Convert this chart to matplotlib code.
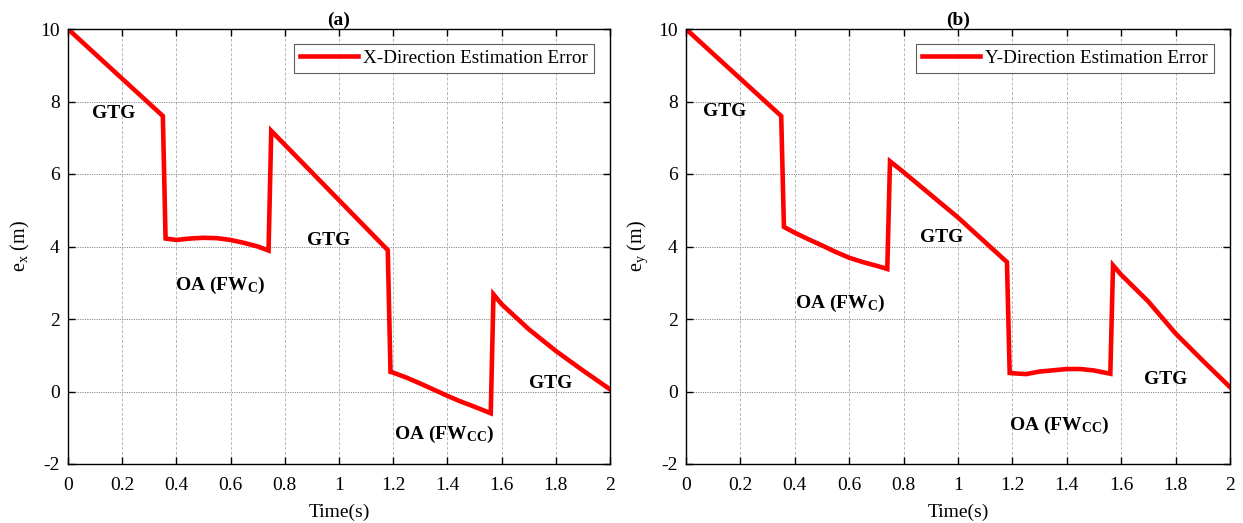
import matplotlib
matplotlib.use("Agg")
import matplotlib.pyplot as plt

plt.rcParams['font.family'] = ['Liberation Serif', 'DejaVu Serif']
plt.rcParams['mathtext.fontset'] = 'custom'
plt.rcParams['mathtext.rm'] = 'Liberation Serif'
plt.rcParams['mathtext.it'] = 'Liberation Serif:italic'
plt.rcParams['mathtext.bf'] = 'Liberation Serif:bold'
plt.rcParams['axes.unicode_minus'] = False

# Panel (a): X-direction estimation error
t_x = [0.0, 0.35, 0.36, 0.40, 0.45, 0.50, 0.55, 0.60, 0.65, 0.70, 0.74,
       0.75, 1.18, 1.19, 1.20, 1.25, 1.30, 1.35, 1.40, 1.45, 1.50, 1.56,
       1.57, 1.60, 1.70, 1.80, 1.90, 2.00]
e_x = [10.0, 7.6, 4.22, 4.18, 4.22, 4.24, 4.23, 4.18, 4.10, 4.00, 3.89,
       7.19, 3.90, 0.54, 0.52, 0.38, 0.22, 0.05, -0.12, -0.28, -0.42, -0.60,
       2.68, 2.41, 1.72, 1.12, 0.58, 0.06]

# Panel (b): Y-direction estimation error
t_y = [0.0, 0.35, 0.36, 0.40, 0.45, 0.50, 0.55, 0.60, 0.65, 0.70, 0.74,
       0.75, 0.80, 1.00, 1.18, 1.19, 1.25, 1.30, 1.40, 1.45, 1.50, 1.56,
       1.57, 1.60, 1.70, 1.80, 1.90, 2.00]
e_y = [10.0, 7.6, 4.54, 4.38, 4.20, 4.03, 3.85, 3.69, 3.57, 3.47, 3.38,
       6.35, 6.05, 4.80, 3.57, 0.51, 0.48, 0.55, 0.62, 0.62, 0.58, 0.49,
       3.48, 3.22, 2.48, 1.60, 0.85, 0.12]

x_ticks = [0, 0.2, 0.4, 0.6, 0.8, 1.0, 1.2, 1.4, 1.6, 1.8, 2.0]
x_tick_labels = ['0', '0.2', '0.4', '0.6', '0.8', '1', '1.2', '1.4', '1.6', '1.8', '2']
y_ticks = [-2, 0, 2, 4, 6, 8, 10]

labels_a = ['GTG', r'OA (FW$_{\mathbf{C}}$)', 'GTG', r'OA (FW$_{\mathbf{CC}}$)', 'GTG']
pos_a = [(0.168, 7.67), (0.562, 2.92), (0.96, 4.16), (1.387, -1.19), (1.78, 0.21)]
labels_b = labels_a
pos_b = [(0.142, 7.73), (0.565, 2.42), (0.938, 4.25), (1.373, -0.94), (1.763, 0.32)]

fig = plt.figure(figsize=(12.43, 5.23), dpi=100)
W, H = 1243, 523
axa = fig.add_axes([68 / W, 1 - 464 / H, (610 - 68) / W, (464 - 29) / H])
axb = fig.add_axes([686 / W, 1 - 464 / H, (1230 - 686) / W, (464 - 29) / H])

panels = [
    (axa, t_x, e_x, 'X-Direction Estimation Error', r'e$_{\mathrm{x}}$ (m)', '(a)', labels_a, pos_a),
    (axb, t_y, e_y, 'Y-Direction Estimation Error', r'e$_{\mathrm{y}}$ (m)', '(b)', labels_b, pos_b),
]

for ax, t, e, leg, ylab, title, labs, poss in panels:
    ax.plot(t, e, color='#ff0000', lw=3.3, label=leg, solid_joinstyle='miter')
    ax.set_xlim(0, 2)
    ax.set_ylim(-2, 10)
    ax.set_xticks(x_ticks)
    ax.set_xticklabels(x_tick_labels)
    ax.set_yticks(y_ticks)
    ax.tick_params(direction='in', top=True, right=True, length=5, width=1,
                   labelsize=14)
    ax.tick_params(axis='x', pad=9)
    ax.tick_params(axis='y', pad=6)
    ax.grid(True, axis='y', color='#8a8a8a', linestyle=(0, (1.2, 1.2)), linewidth=0.7)
    ax.grid(True, axis='x', color='#b5b5b5', linestyle=(0, (3, 2)), linewidth=0.7)
    for s in ax.spines.values():
        s.set_linewidth(1.0)
        s.set_color('black')
    ax.set_xlabel('Time(s)', fontsize=14, labelpad=7)
    ax.set_ylabel(ylab, fontsize=14.5, labelpad=6)
    ax.set_title(title, fontsize=14, fontweight='bold', pad=3)
    lg = ax.legend(loc='upper right', fontsize=13.8, frameon=True, fancybox=False,
                   edgecolor='#333333', borderpad=0.3, handlelength=3.0,
                   handletextpad=0.3, borderaxespad=0,
                   bbox_to_anchor=(0.9705, 0.9655))
    lg.get_frame().set_linewidth(0.8)
    for lab, (px, py) in zip(labs, poss):
        ax.text(px, py, lab, fontsize=14, fontweight='bold', ha='center', va='center')

fig.savefig('out.png', dpi=100)
